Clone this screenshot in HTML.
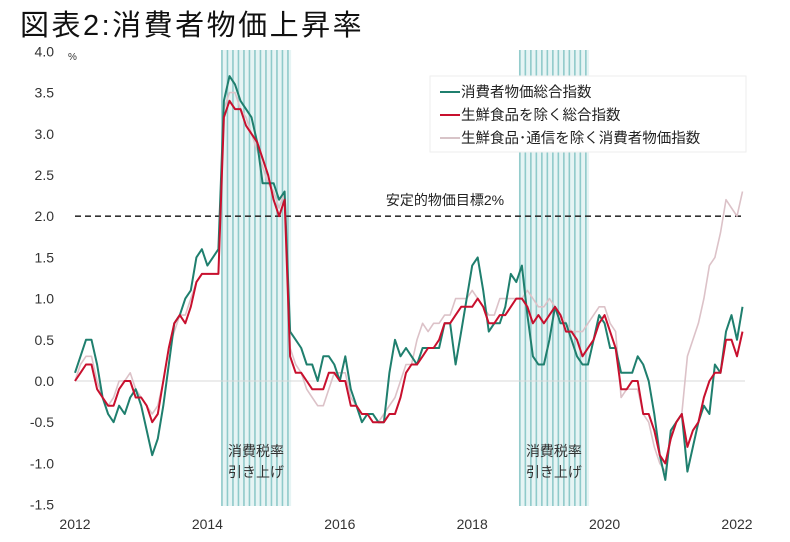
<!DOCTYPE html>
<html><head><meta charset="utf-8"><style>
html,body{margin:0;padding:0;background:#fff;}
body{width:790px;height:537px;overflow:hidden;}
text{font-family:"Liberation Sans","Noto Sans CJK JP",sans-serif;}
</style></head><body>
<svg id="chart" width="790" height="537" viewBox="0 0 790 537" xmlns="http://www.w3.org/2000/svg">
<text x="20" y="35" font-size="29" letter-spacing="2.5" fill="#111">図表2:消費者物価上昇率</text>
<g id="bands"></g>
<g id="grid"></g>
<g id="series"></g>
<g id="labels"></g>
</svg>
<script>
const years = ['2012','2014','2016','2018','2020','2022'];
const yTicks = [4.0,3.5,3.0,2.5,2.0,1.5,1.0,0.5,0.0,-0.5,-1.0,-1.5];
const taxBands = [[2014.25,2015.25],[2018.75,2019.75]];
const targetRate = [2.0];
const headline = [0.1,0.3,0.5,0.5,0.2,-0.2,-0.4,-0.5,-0.3,-0.4,-0.2,-0.1,
-0.3,-0.6,-0.9,-0.7,-0.3,0.2,0.7,0.8,1.0,1.1,1.5,1.6,
1.4,1.5,1.6,3.4,3.7,3.6,3.4,3.3,3.2,2.9,2.4,2.4,
2.4,2.2,2.3,0.6,0.5,0.4,0.2,0.2,0.0,0.3,0.3,0.2,
0.0,0.3,-0.1,-0.3,-0.5,-0.4,-0.4,-0.5,-0.5,0.1,0.5,0.3,
0.4,0.3,0.2,0.4,0.4,0.4,0.4,0.7,0.7,0.2,0.6,1.0,
1.4,1.5,1.1,0.6,0.7,0.7,0.9,1.3,1.2,1.4,0.8,0.3,
0.2,0.2,0.5,0.9,0.7,0.7,0.5,0.3,0.2,0.2,0.5,0.8,
0.7,0.4,0.4,0.1,0.1,0.1,0.3,0.2,0.0,-0.4,-0.9,-1.2,
-0.6,-0.5,-0.4,-1.1,-0.8,-0.5,-0.3,-0.4,0.2,0.1,0.6,0.8,
0.5,0.9];
const core = [0.0,0.1,0.2,0.2,-0.1,-0.2,-0.3,-0.3,-0.1,0.0,0.0,-0.2,
-0.2,-0.3,-0.5,-0.4,0.0,0.4,0.7,0.8,0.7,0.9,1.2,1.3,
1.3,1.3,1.3,3.2,3.4,3.3,3.3,3.1,3.0,2.9,2.7,2.5,
2.2,2.0,2.2,0.3,0.1,0.1,0.0,-0.1,-0.1,-0.1,0.1,0.1,
0.0,0.0,-0.3,-0.3,-0.4,-0.4,-0.5,-0.5,-0.5,-0.4,-0.4,-0.2,
0.1,0.2,0.2,0.3,0.4,0.4,0.5,0.7,0.7,0.8,0.9,0.9,
0.9,1.0,0.9,0.7,0.7,0.8,0.8,0.9,1.0,1.0,0.9,0.7,
0.8,0.7,0.8,0.9,0.8,0.6,0.6,0.5,0.3,0.4,0.5,0.7,
0.8,0.6,0.4,-0.1,-0.1,0.0,0.0,-0.4,-0.4,-0.6,-0.9,-1.0,
-0.7,-0.5,-0.4,-0.8,-0.6,-0.5,-0.2,0.0,0.1,0.1,0.5,0.5,
0.3,0.6];
const exComm = [0.0,0.2,0.3,0.3,0.0,-0.2,-0.3,-0.2,0.0,0.0,0.1,-0.1,
-0.2,-0.3,-0.4,-0.3,0.0,0.4,0.6,0.8,0.8,1.0,1.2,1.3,
1.3,1.3,1.3,3.3,3.5,3.5,3.3,3.2,3.0,2.8,2.6,2.4,
2.3,2.1,2.3,0.4,0.2,0.1,-0.1,-0.2,-0.3,-0.3,-0.1,0.1,
0.1,0.1,-0.2,-0.3,-0.4,-0.4,-0.4,-0.5,-0.4,-0.3,-0.2,0.0,
0.2,0.2,0.5,0.7,0.6,0.7,0.7,0.8,0.8,1.0,1.0,1.0,
1.1,1.0,0.9,0.8,0.8,1.0,1.0,1.0,1.0,1.0,1.1,1.0,
0.9,0.9,1.0,0.9,0.8,0.7,0.6,0.6,0.6,0.7,0.8,0.9,
0.9,0.7,0.6,-0.2,-0.1,-0.1,-0.1,-0.4,-0.5,-0.8,-1.0,-1.1,
-0.7,-0.5,-0.4,0.3,0.5,0.7,1.0,1.4,1.5,1.8,2.2,2.1,
2.0,2.3];

const NS='http://www.w3.org/2000/svg';
const X0=75, X1=737, Y0=381, PER=82.4;
function xYear(t){return X0+(t-2012)*(X1-X0)/10;}
function xMonth(i){return xYear(2012+i/12);}
function yVal(v){return Y0-v*PER;}
function mk(tag,attrs,parent){const e=document.createElementNS(NS,tag);for(const k in attrs)e.setAttribute(k,attrs[k]);document.getElementById(parent).appendChild(e);return e;}

taxBands.forEach((b,bi)=>{
  const x1=xYear(b[0])-3, x2=xYear(b[1])+1;
  const r=mk('rect',{x:x1,y:50,width:x2-x1,height:456,fill:'#e6f4f4'},'bands');
  
  
  for(let x=x1+1;x<=x2;x+=5.5){
    const l=mk('line',{x1:x,x2:x,y1:50,y2:506,stroke:'#8fcaca','stroke-width':1.6},'bands');
    
    
  }
  const cx=(x1+x2)/2;
  const t1=mk('text',{x:cx,y:456,'font-size':14,'text-anchor':'middle',fill:'#333'},'labels');
  t1.textContent='消費税率';
  
  
  const t2=mk('text',{x:cx,y:477,'font-size':14,'text-anchor':'middle',fill:'#333'},'labels');
  t2.textContent='引き上げ';
  
  
});
const z=mk('line',{x1:X0,x2:745,y1:yVal(0),y2:yVal(0),stroke:'#d8d8d8','stroke-width':1},'grid');


const d=mk('line',{x1:X0,x2:745,y1:yVal(targetRate[0]),y2:yVal(targetRate[0]),stroke:'#333','stroke-width':1.6,'stroke-dasharray':'6,4'},'grid');


const dt=mk('text',{x:445,y:yVal(targetRate[0])-11,'font-size':14,'text-anchor':'middle',fill:'#222'},'labels');
dt.textContent='安定的物価目標2%';


yTicks.forEach(v=>{
  const t=mk('text',{x:54,y:yVal(v)+5,'font-size':14,'text-anchor':'end',fill:'#333'},'labels');
  t.textContent=v.toFixed(1);
  
  
});
const pc=mk('text',{x:68,y:60,'font-size':10,fill:'#333'},'labels');
pc.textContent='%';


years.forEach(y=>{
  const t=mk('text',{x:xYear(+y),y:529,'font-size':14,'text-anchor':'middle',fill:'#333'},'labels');
  t.textContent=y;
  
  
});
function drawLine(arr,color,w,name){
  const pts=arr.map((v,i)=>xMonth(i).toFixed(1)+','+yVal(v).toFixed(1)).join(' ');
  const p=mk('polyline',{points:pts,fill:'none',stroke:color,'stroke-width':w,'stroke-linejoin':'round'},'series');
  
  
}
drawLine(exComm,'#dcc2c8',1.6,'series-ex-fresh-food-communication');
drawLine(headline,'#1f7f6e',2,'series-headline-cpi');
drawLine(core,'#c8102e',2,'series-core-cpi');
const lb=mk('rect',{x:430,y:76,width:316,height:76,fill:'#fff',stroke:'#eeeeee'},'labels');


const leg=[['消費者物価総合指数','#1f7f6e'],['生鮮食品を除く総合指数','#c8102e'],['生鮮食品･通信を除く消費者物価指数','#d8c4c8']];
leg.forEach((e,i)=>{
  const y=92+i*23;
  const l=mk('line',{x1:440,x2:460,y1:y,y2:y,stroke:e[1],'stroke-width':2},'labels');
  
  
  const t=mk('text',{x:461,y:y+5,'font-size':14.5,fill:'#222'},'labels');
  t.textContent=e[0];
  
  
});
</script>
</body></html>
